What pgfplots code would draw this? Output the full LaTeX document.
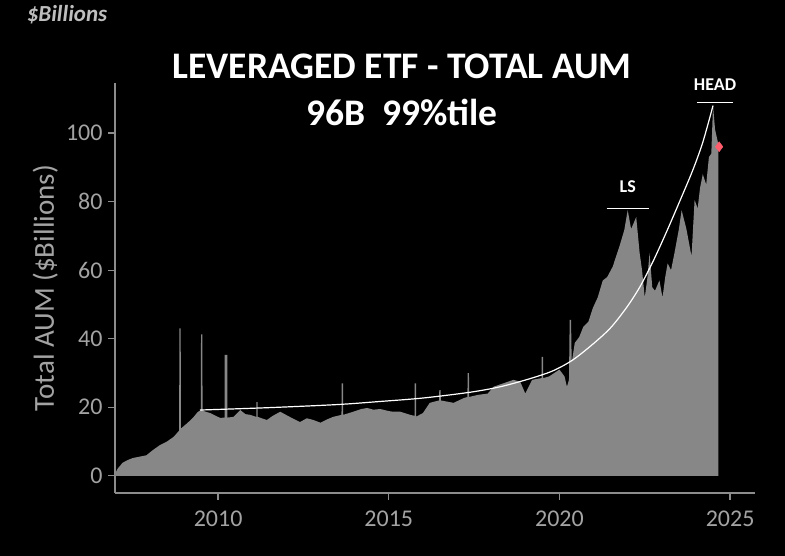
\documentclass[border=0pt]{standalone}
\usepackage{pgfplots}
\pgfplotsset{compat=1.18}
\usepackage{fontspec}
\setmainfont{Carlito}
\definecolor{areagray}{HTML}{878787}
\definecolor{axgray}{HTML}{8C8C8C}
\definecolor{txtgray}{HTML}{A3A3A3}
\definecolor{diam}{HTML}{FF5C6C}
\begin{document}
\begin{tikzpicture}[x=1bp,y=1bp]
\useasboundingbox (0,0) rectangle (785,556);
\fill[black] (0,0) rectangle (785,556);
\begin{axis}[
  at={(115bp,63bp)}, anchor=south west,
  scale only axis, width=640bp, height=410bp,
  xmin=2006.98, xmax=2025.73, ymin=-5, ymax=114.6,
  axis lines=left,
  axis line style={-, draw=axgray, line width=1.6bp},
  xtick={2010,2015,2020,2025},
  ytick={0,20,40,60,80,100},
  tick align=outside,
  major tick length=7bp,
  tick style={draw=axgray, line width=1.2bp},
  /pgf/number format/assume math mode=true,
  xticklabel style={/pgf/number format/1000 sep={}, yshift=-7bp},
  yticklabel style={xshift=-2bp},
  ticklabel style={font=\fontsize{24bp}{28bp}\selectfont, text=txtgray},
  ylabel={Total AUM (\$Billions)},
  ylabel style={at={(axis description cs:-0.109,0.5)}, anchor=center,
    font=\fontsize{29bp}{32bp}\selectfont, text=txtgray},
  clip=false,
]
\addplot[fill=areagray, draw=none] table {
x y
2006.98 0.5
2007.05 2.0
2007.2 3.8
2007.35 4.6
2007.5 5.2
2007.7 5.6
2007.9 6.0
2008.1 7.6
2008.3 9.0
2008.5 10.0
2008.7 11.4
2008.86 13.2
2008.865 43
2008.905 43
2008.91 13.8
2009.1 15.4
2009.27 17.0
2009.4 18.6
2009.495 19.2
2009.50 41.3
2009.54 41.3
2009.545 19.0
2009.77 18.3
2010.06 16.9
2010.19 17.0
2010.195 35.3
2010.27 35.3
2010.275 17.0
2010.45 17.2
2010.65 19.2
2010.8 18.0
2010.94 17.8
2011.12 17.2
2011.125 21.5
2011.155 21.5
2011.16 17.2
2011.43 16.3
2011.6 17.5
2011.82 18.7
2012.1 17.2
2012.4 15.7
2012.6 16.8
2012.79 16.3
2013.0 15.5
2013.2 16.5
2013.37 17.2
2013.615 17.8
2013.62 27
2013.66 27
2013.665 17.8
2013.96 18.7
2014.2 19.5
2014.37 19.8
2014.55 19.3
2014.75 19.5
2015.0 18.9
2015.13 18.7
2015.34 18.7
2015.63 17.8
2015.755 17.5
2015.76 27
2015.80 27
2015.805 17.3
2016.0 18.3
2016.2 21.3
2016.475 22.0
2016.48 25
2016.52 25
2016.525 22.0
2016.9 21.3
2017.2 22.7
2017.305 23.0
2017.31 30
2017.35 30
2017.355 23.0
2017.6 23.6
2017.9 24.0
2018.07 26.0
2018.36 27.0
2018.65 28.0
2018.85 27.5
2019.0 24.0
2019.2 28.0
2019.475 28.5
2019.48 34.7
2019.52 34.7
2019.525 28.5
2019.7 29.0
2020.0 31.0
2020.15 29.0
2020.22 26.0
2020.28 28
2020.3 45.5
2020.34 45.5
2020.36 33
2020.45 38.8
2020.58 40.5
2020.7 43.5
2020.85 45
2020.98 49
2021.12 52
2021.27 57
2021.4 58
2021.56 61
2021.66 64
2021.76 67
2021.9 71.7
2022.0 77.5
2022.1 72
2022.25 75.5
2022.35 65
2022.42 60
2022.5 52
2022.58 58
2022.64 65
2022.72 55
2022.8 54
2022.93 57
2023.02 52
2023.1 58
2023.17 62
2023.27 60
2023.37 65
2023.5 72
2023.58 77.5
2023.72 72
2023.87 64
2023.96 80.5
2024.05 78
2024.12 84
2024.2 88
2024.3 85
2024.38 93
2024.45 94
2024.5 108
2024.56 101
2024.65 97
2024.66 97
} \closedcycle;
\addplot[white, line width=1.2bp, smooth, tension=0.5] coordinates {
(2009.47,19.2) (2011.5,19.9) (2013.5,20.8) (2014.75,21.7) (2016.0,22.7)
(2017.39,24.4) (2018.27,26.0) (2019.12,28.3) (2019.8,30.6) (2020.39,33.8)
(2021.0,38.6) (2021.5,43.2) (2021.96,49.0) (2022.35,55.0) (2022.74,62.5)
(2023.13,71.0) (2023.52,80.0) (2023.9,89.0) (2024.2,97.3) (2024.5,108)
};
\addplot[only marks, mark=diamond*, mark size=5bp, color=diam] coordinates {(2024.68,96)};
\draw[white, line width=1.2bp] (axis cs:2021.38,78.1) -- (axis cs:2022.61,78.1);
\draw[white, line width=1.2bp] (axis cs:2024.03,109) -- (axis cs:2025.09,109);
\node[text=white, font=\fontsize{18bp}{20bp}\selectfont\bfseries] at (axis cs:2022.0,84.3) {LS};
\node[text=white, font=\fontsize{18bp}{20bp}\selectfont\bfseries] at (axis cs:2024.56,114.0) {HEAD};
\end{axis}
\node[text=white, font=\fontsize{37.5bp}{40bp}\selectfont\bfseries] at (402,490) {LEVERAGED ETF - TOTAL AUM};
\node[text=white, font=\fontsize{37.5bp}{40bp}\selectfont\bfseries] at (402,444) {96B\ \ 99\%tile};
\node[text={rgb,255:red,190;green,190;blue,190}, font=\fontsize{23bp}{25bp}\selectfont\bfseries\itshape] at (67,541) {\$Billions};
\end{tikzpicture}
\end{document}
